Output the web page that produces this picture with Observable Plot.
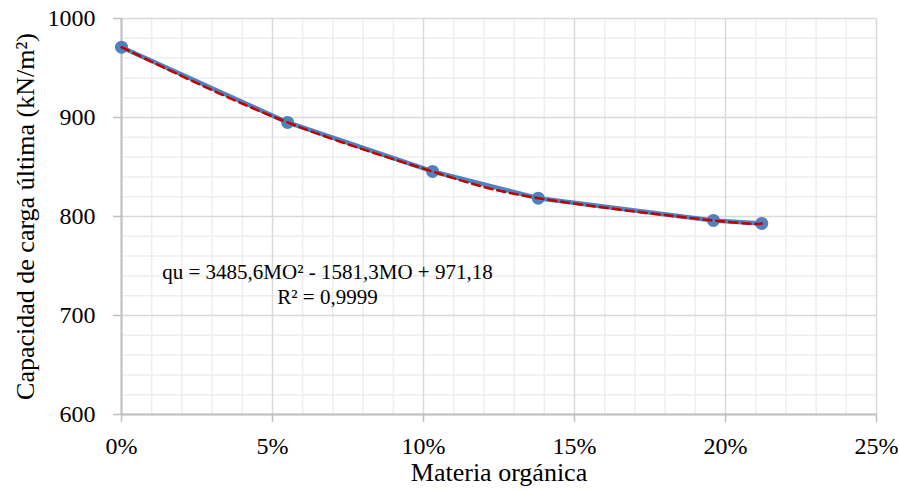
<!DOCTYPE html>
<html>
<head>
<meta charset="utf-8">
<script src="https://cdn.jsdelivr.net/npm/d3@7"></script>
<script src="https://cdn.jsdelivr.net/npm/@observablehq/plot@0.6"></script>
<style>
  html, body { margin: 0; padding: 0; background: #fff; }
  #chart svg { display: block; }
</style>
</head>
<body>
<div id="chart"></div>
<script>
// Data
const organicMatter = [0, 0.055, 0.103, 0.138, 0.196, 0.212];
const bearingCapacity = [971, 895, 845.5, 818.5, 796, 793];

// Axis ticks
const xTicks = [0, 0.05, 0.10, 0.15, 0.20, 0.25];
const yTicks = [600, 700, 800, 900, 1000];
const xMinorTicks = [0.01,0.02,0.03,0.04,0.06,0.07,0.08,0.09,0.11,0.12,0.13,0.14,0.16,0.17,0.18,0.19,0.21,0.22,0.23,0.24];
const yMinorTicks = [620,640,660,680,720,740,760,780,820,840,860,880,920,940,960,980];

const xTitle = ["Materia orgánica"];
const yTitle = ["Capacidad de carga última (kN/m²)"];
const equationText = ["qu = 3485,6MO² - 1581,3MO + 971,18\nR² = 0,9999"];
const equationPos = [{x: 0.0682, y: 732}];

const data = organicMatter.map((x, i) => ({x, y: bearingCapacity[i]}));
const font = '"Liberation Serif", "Times New Roman", serif';
const fmtPct = d3.format(".0%");
const fmtInt = d3.format("d");

const chart = Plot.plot({
  width: 899,
  height: 495,
  marginLeft: 121,
  marginRight: 23,
  marginTop: 18,
  marginBottom: 81,
  style: {fontFamily: font, fontSize: "24px", color: "#000", background: "#fff"},
  x: {domain: [0, 0.25], axis: null},
  y: {domain: [600, 1000], axis: null},
  marks: [
    Plot.ruleX(xMinorTicks, {stroke: "#eeeeee", strokeWidth: 1.5}),
    Plot.ruleY(yMinorTicks, {stroke: "#eeeeee", strokeWidth: 1.5}),
    Plot.ruleX(xTicks, {stroke: "#d9d9d9", strokeWidth: 1.5}),
    Plot.ruleY(yTicks, {stroke: "#d9d9d9", strokeWidth: 1.5}),
    Plot.ruleX([xTicks[0]], {stroke: "#bfbfbf", strokeWidth: 2}),
    Plot.ruleY([yTicks[0]], {stroke: "#bfbfbf", strokeWidth: 2}),
    // axis ticks (outside the frame)
    Plot.tickX(xTicks, {x: d => d, insetTop: 396, insetBottom: -8, stroke: "#bfbfbf", strokeWidth: 1.5}),
    Plot.tickY(yTicks, {y: d => d, insetLeft: -8, insetRight: 755, stroke: "#bfbfbf", strokeWidth: 1.5}),
    // tick labels
    Plot.text(xTicks, {x: d => d, frameAnchor: "bottom", dy: 32, lineAnchor: "middle", textAnchor: "middle", text: d => fmtPct(d), fontSize: 24, fontFamily: font, fill: "#000"}),
    Plot.text(yTicks, {y: d => d, frameAnchor: "left", dx: -26, lineAnchor: "middle", textAnchor: "end", text: d => fmtInt(d), fontSize: 24, fontFamily: font, fill: "#000"}),
    // series
    Plot.line(data, {x: "x", y: "y", stroke: "#4f81bd", strokeWidth: 4.5}),
    Plot.dot(data, {x: "x", y: "y", r: 6.5, fill: "#4f81bd", stroke: "none"}),
    Plot.line(data, {x: "x", y: "y", curve: "natural", stroke: "#c00000", strokeWidth: 2.5, strokeDasharray: "8,5"}),
    // annotation & titles
    Plot.text(equationText, {x: () => equationPos[0].x, y: () => equationPos[0].y, text: d => d, fontSize: 21, lineHeight: 1.19, textAnchor: "middle", fontFamily: font, fill: "#000"}),
    Plot.text(xTitle, {frameAnchor: "bottom", text: d => d, dy: 66, fontSize: 26, textAnchor: "middle", fontFamily: font, fill: "#000"}),
    Plot.text(yTitle, {frameAnchor: "left", text: d => d, dx: -96, rotate: -90, fontSize: 26, textAnchor: "middle", fontFamily: font, fill: "#000"})
  ]
});
document.getElementById("chart").appendChild(chart);
</script>
</body>
</html>
